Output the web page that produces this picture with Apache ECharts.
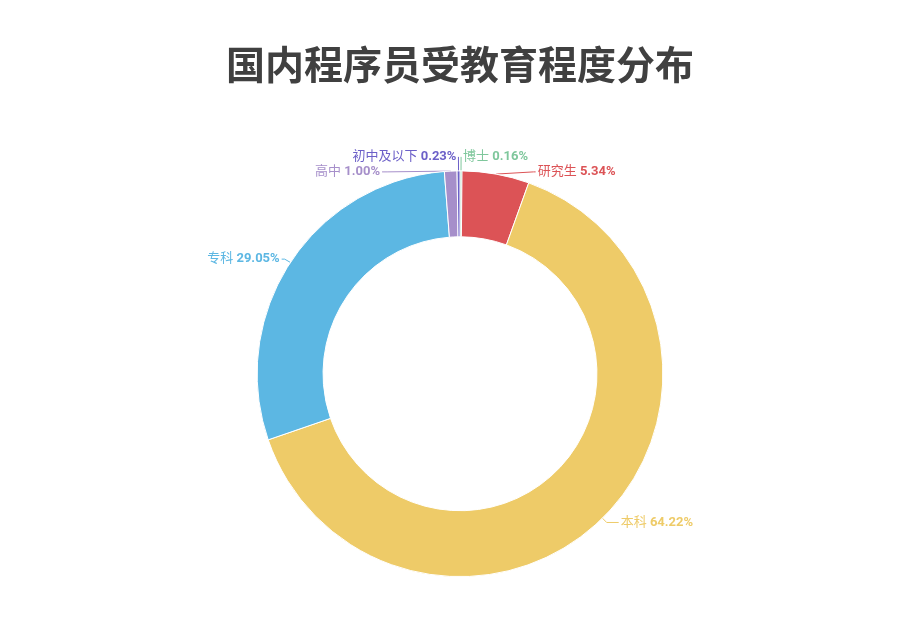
<!DOCTYPE html>
<html>
<head>
<meta charset="utf-8">
<title>国内程序员受教育程度分布</title>
<script src="https://cdn.jsdelivr.net/npm/echarts@6/dist/echarts.min.js"></script>
<style>
  html, body { margin: 0; padding: 0; background: #fff; }
  #chart { width: 920px; height: 640px; }
</style>
</head>
<body>
<div id="chart"></div>
<script>
// 受教育程度分布 (%)
var levels = ['博士', '研究生', '本科', '专科', '高中', '初中及以下'];
var shares = [0.16, 5.34, 64.22, 29.05, 1.00, 0.23];
var colors = ['#7fc79c', '#dc5356', '#eecb68', '#5cb7e3', '#a68fca', '#6c60c8'];
// label line segments per slice
var lineHeads = [14, 4, 6, 6, 2, 14];
var lineTails = [0, 2, 12, 3, 5, 0];

var chart = echarts.init(document.getElementById('chart'), null, { renderer: 'canvas' });

var data = levels.map(function (name, i) {
  return {
    name: name,
    value: shares[i],
    itemStyle: { color: colors[i] },
    label: { color: colors[i] },
    labelLine: { length: lineHeads[i], length2: lineTails[i] }
  };
});

chart.setOption({
  title: {
    text: '国内程序员受教育程度分布',
    left: 'center',
    top: 40,
    textStyle: {
      fontSize: 39,
      fontWeight: 'bold',
      color: '#404040',
      fontFamily: 'Noto Sans CJK SC'
    }
  },
  series: [{
    type: 'pie',
    radius: ['42.8%', '63.4%'],
    center: ['50%', '58.4%'],
    startAngle: 90,
    itemStyle: { borderColor: '#fff', borderWidth: 1 },
    label: {
      fontSize: 13,
      fontFamily: 'Roboto, Noto Sans CJK SC',
      distanceToLabelLine: 2,
      formatter: function (p) {
        return p.name + ' {b|' + p.value.toFixed(2) + '%}';
      },
      rich: {
        b: { fontWeight: 'bold', fontSize: 13, fontFamily: 'Roboto, Noto Sans CJK SC' }
      }
    },
    data: data,
    animation: false
  }]
});
</script>
</body>
</html>
